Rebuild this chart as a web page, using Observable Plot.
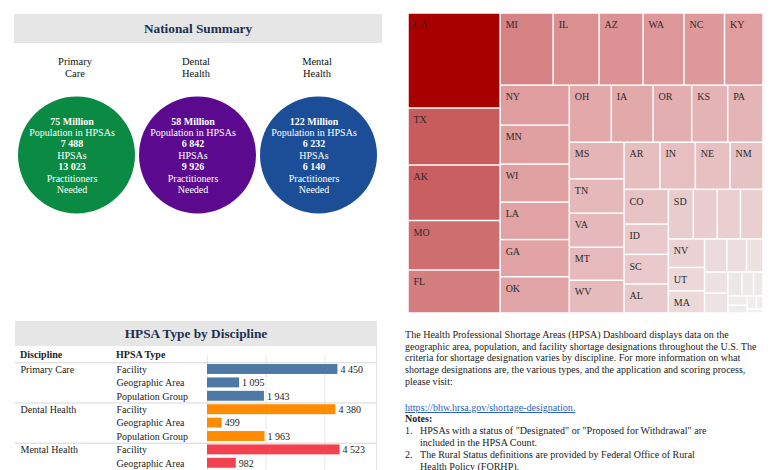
<!DOCTYPE html>
<html><head><meta charset="utf-8">
<script src="https://cdn.jsdelivr.net/npm/d3@7"></script>
<script src="https://cdn.jsdelivr.net/npm/@observablehq/plot@0.6"></script>
<style>
body{margin:0;width:780px;height:470px;overflow:hidden;position:relative;background:#fff;font-family:"Liberation Serif","Times New Roman",serif;color:#222}
.abs{position:absolute}
.band{background:#e6e6e6;color:#1d3050;font-weight:bold;font-size:13.3px;display:flex;align-items:center;justify-content:center}
.txt{position:absolute;white-space:nowrap;font-size:10.05px;line-height:11.65px;color:#222}
a{color:#2a62b8}
</style></head><body>

<div class="abs band" style="left:14px;top:14px;width:368px;height:29px">National Summary</div>
<div class="abs" id="summary" style="left:14px;top:48px"></div>
<div class="abs" id="treemap" style="left:408px;top:13px"></div>

<div class="abs band" style="left:15px;top:321px;width:362px;height:25px">HPSA Type by Discipline</div>
<div class="abs" style="left:20px;top:349px;font-size:10px;font-weight:bold;color:#222">Discipline</div>
<div class="abs" style="left:116px;top:349px;font-size:10px;font-weight:bold;color:#222">HPSA Type</div>
<div class="abs" id="table" style="left:15px;top:355px"></div>
<div class="abs" style="left:376px;top:346px;width:1px;height:124px;background:#e3e3e3"></div>

<div class="txt" style="left:405px;top:329px">The Health Professional Shortage Areas (HPSA) Dashboard displays data on the<br>geographic area, population, and facility shortage designations throughout the U.S. The<br>criteria for shortage designation varies by discipline. For more information on what<br>shortage designations are, the various types, and the application and scoring process,<br>please visit:</div>
<div class="txt" style="left:405px;top:402px"><a href="https://bhw.hrsa.gov/shortage-designation">https://bhw.hrsa.gov/shortage-designation.</a></div>
<div class="txt" style="left:405px;top:413px;font-weight:bold">Notes:</div>
<div class="txt" style="left:405px;top:425px">1.</div>
<div class="txt" style="left:420px;top:425px">HPSAs with a status of "Designated" or "Proposed for Withdrawal" are<br>included in the HPSA Count.</div>
<div class="txt" style="left:405px;top:449px">2.</div>
<div class="txt" style="left:420px;top:449px">The Rural Status definitions are provided by Federal Office of Rural<br>Health Policy (FORHP).</div>

<script>
// ---- National summary ----
const disciplines = ["Primary Care", "Dental Health", "Mental Health"];
const populationMillions = [75, 58, 122];
const hpsaCounts = [7488, 6842, 6232];
const practitionersNeeded = [13023, 9926, 6140];
const circleColors = ["#0a8a42", "#5b0a90", "#1b4e97"];

// ---- HPSA type by discipline ----
const hpsaTypes = ["Facility", "Geographic Area", "Population Group"];
const primaryCareByType = [4450, 1095, 1943];
const dentalHealthByType = [4380, 499, 1963];
const mentalHealthByType = [4523, 982, 727];
const barColors = ["#4e79a7", "#ff8c00", "#f4414f"];

// ---- Treemap of HPSAs by state ----
const states = ["CA","TX","AK","MO","FL","MI","IL","AZ","WA","NC","KY","NY","MN","WI","LA","GA","OK","OH","IA","OR","KS","PA","MS","TN","VA","MT","WV","AR","IN","NE","NM","CO","ID","SC","AL","SD","ND","WY","ME","NV","UT","MA","HI","PR","NH","MD","VT","CT","NJ","DE","RI","DC","GU","VI","MP"];
const stateCounts = [1690,1014,987,880,765,738,640,612,571,564,536,534,520,507,500,496,484,463,460,426,397,389,387,363,360,349,346,327,321,315,300,297,259,254,248,239,229,223,216,199,163,155,142,126,105,95,90,64,54,44,35,29,23,17,12];

const fmt = d3.formatLocale({thousands: " ", grouping: [3], decimal: ".", currency: ["", ""]}).format(",d");
const serif = "Liberation Serif, Times New Roman, serif";

// Summary circles
const summary = disciplines.map((name, i) => ({
  name, pop: populationMillions[i], hpsas: hpsaCounts[i], need: practitionersNeeded[i], color: circleColors[i]
}));
const lines = [
  {t: d => `${d.pop} Million`, b: true},
  {t: d => "Population in HPSAs", b: false},
  {t: d => fmt(d.hpsas), b: true},
  {t: d => "HPSAs", b: false},
  {t: d => fmt(d.need), b: true},
  {t: d => "Practitioners", b: false},
  {t: d => "Needed", b: false}
];
const step = 11.4;
document.getElementById("summary").append(Plot.plot({
  width: 368, height: 214, margin: 0,
  style: {fontFamily: serif, fontSize: "10px", background: "transparent", overflow: "visible"},
  x: {type: "point", domain: disciplines, range: [61.5, 303.5], padding: 0, axis: null},
  color: {type: "identity"},
  marks: [
    Plot.dot(summary, {x: "name", r: 58.5, fill: "color", dy: -0.5}),
    Plot.text(summary, {x: "name", text: d => d.name.replace(" ", "\n"), dy: -88, dx: -1.5, lineHeight: 1.12, fontSize: 10.5, fill: "#111"}),
    ...lines.map((l, k) => Plot.text(summary, {
      x: "name", text: l.t, dx: -4.5, dy: (k - 3) * step, fill: "white",
      fontWeight: l.b ? "bold" : "normal", fontSize: 10
    }))
  ]
}));

// Treemap
const root = d3.hierarchy({children: states.map((s, i) => ({name: s, value: stateCounts[i]}))})
  .sum(d => d.value || 0)
  .sort((a, b) => b.value - a.value);
const TW = 355, TH = 300;
d3.treemap().size([TW, TH]).tile(d3.treemapSquarify)(root);
const cells = root.leaves().map(d => ({name: d.data.name, value: d.value, x0: d.x0, x1: d.x1, y0: d.y0, y1: d.y1}));
document.getElementById("treemap").append(Plot.plot({
  width: TW, height: TH, margin: 0,
  style: {fontFamily: serif, background: "transparent"},
  x: {domain: [0, TW], range: [0, TW], axis: null},
  y: {domain: [0, TH], range: [0, TH], axis: null},
  color: {type: "linear", domain: [12, 193, 541, 1690], range: ["#efefef", "#ebd3d5", "#df9c9e", "#a80000"]},
  marks: [
    Plot.rect(cells, {x1: "x0", x2: "x1", y1: "y0", y2: "y1", fill: "value", inset: 0.75}),
    Plot.text(cells.filter(d => d.x1 - d.x0 >= 24.5 && d.y1 - d.y0 >= 15), {
      x: "x0", y: "y0", text: "name", dx: 5, dy: 11.5, textAnchor: "start", fill: "#2a2a2a", fontSize: 10
    })
  ]
}));

// Table with bars
const groups = [primaryCareByType, dentalHealthByType, mentalHealthByType];
const rows = [];
disciplines.forEach((disc, g) => hpsaTypes.forEach((type, j) => rows.push({
  discipline: disc, type, value: groups[g][j], row: g * 3 + j, first: j === 0, color: barColors[g]
})));
document.getElementById("table").append(Plot.plot({
  width: 362, height: 130, margin: 0,
  style: {fontFamily: serif, fontSize: "10px", background: "transparent", color: "#222"},
  x: {domain: [0, 5800], range: [192, 362], ticks: [0, 2000, 4000], grid: true, tickFormat: () => "", tickSize: 0, label: null},
  y: {domain: [0, 8], range: [14, 14 + 13.4 * 8], axis: null},
  color: {type: "identity"},
  marks: [
    Plot.ruleY(rows.filter(r => r.first), {y: d => d.row - 0.5, stroke: "#d6d6d6", strokeWidth: 1}),
    Plot.rectX(rows, {x: "value", y1: d => d.row - 0.37, y2: d => d.row + 0.37, fill: "color"}),
    Plot.text(rows, {x: "value", y: "row", text: d => fmt(d.value), dx: 2.5, textAnchor: "start", fill: "#222", fontSize: 10}),
    Plot.text(rows, {y: "row", text: "type", frameAnchor: "left", dx: 101, textAnchor: "start", fill: "#222", fontSize: 10}),
    Plot.text(rows.filter(r => r.first), {y: "row", text: "discipline", frameAnchor: "left", dx: 5, textAnchor: "start", fill: "#222", fontSize: 10})
  ]
}));
</script>
</body></html>
